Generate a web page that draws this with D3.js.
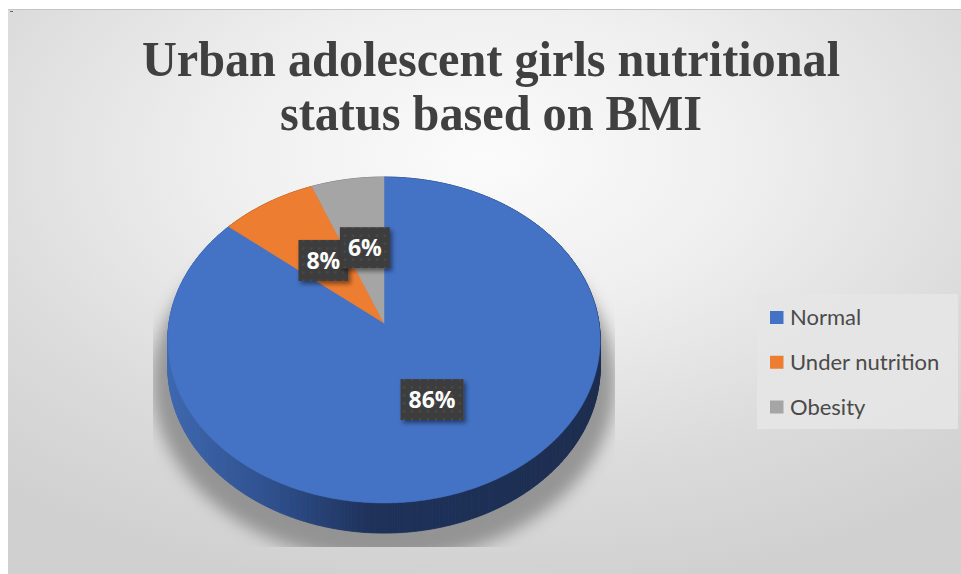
<!DOCTYPE html>
<html>
<head>
<meta charset="utf-8">
<script src="https://cdn.jsdelivr.net/npm/d3@7/dist/d3.min.js"></script>
<style>
  html, body { margin: 0; padding: 0; background: #ffffff; }
  svg { display: block; }
</style>
</head>
<body>
<div id="chart"></div>
<script>
// ---- data ----
const categories = ["Normal", "Under nutrition", "Obesity"];
const values = [86, 8, 6];
const colors = ["#4472c4", "#ed7d31", "#a5a5a5"];
const titleLines = ["Urban adolescent girls nutritional", "status based on BMI"];

// ---- layout ----
const W = 961, H = 574;
const cx = 384, cy = 323;        // centre of the pie's top face on screen
const A = 215, B = 161.2;        // radii before perspective division
const k = 0.1043;                // perspective strength (front larger than back)
const depth = 27;                // thickness of the disc

const svg = d3.select("#chart").append("svg")
  .attr("width", W).attr("height", H);

const defs = svg.append("defs");

// chart background: soft radial light-grey fill
const bg = defs.append("radialGradient").attr("id", "bgGrad")
  .attr("cx", 0.5).attr("cy", 0.26).attr("r", 0.78);
bg.append("stop").attr("offset", 0).attr("stop-color", "#fbfbfb");
bg.append("stop").attr("offset", 0.35).attr("stop-color", "#efefef");
bg.append("stop").attr("offset", 0.72).attr("stop-color", "#dbdbdb");
bg.append("stop").attr("offset", 1).attr("stop-color", "#d0d0d0");

// side wall of the disc, lighter at the left
const side = defs.append("linearGradient").attr("id", "sideGrad")
  .attr("gradientUnits", "userSpaceOnUse")
  .attr("x1", cx - A).attr("x2", cx + A).attr("y1", 0).attr("y2", 0);
side.append("stop").attr("offset", 0).attr("stop-color", "#3d67af");
side.append("stop").attr("offset", 0.25).attr("stop-color", "#2d4e8b");
side.append("stop").attr("offset", 0.47).attr("stop-color", "#1d3159");
side.append("stop").attr("offset", 1).attr("stop-color", "#1b2c4f");

// blurred shadow under the disc
const shadowF = defs.append("filter").attr("id", "pieShadow")
  .attr("x", "-20%").attr("y", "-20%").attr("width", "140%").attr("height", "140%");
shadowF.append("feGaussianBlur").attr("stdDeviation", 8);

defs.append("clipPath").attr("id", "plotClip")
  .append("rect").attr("x", 153).attr("y", 150).attr("width", 462).attr("height", 397);

// label box shadow
const lblF = defs.append("filter").attr("id", "lblShadow")
  .attr("x", "-30%").attr("y", "-30%").attr("width", "170%").attr("height", "170%");
lblF.append("feDropShadow").attr("dx", 2.5).attr("dy", 3).attr("stdDeviation", 2)
  .attr("flood-color", "#000").attr("flood-opacity", 0.45);

// dotted texture of the label boxes
const pat = defs.append("pattern").attr("id", "dots")
  .attr("patternUnits", "userSpaceOnUse").attr("width", 8).attr("height", 8);
pat.append("rect").attr("width", 8).attr("height", 8).attr("fill", "#3d3d3d");
pat.append("circle").attr("cx", 4).attr("cy", 4).attr("r", 1.3).attr("fill", "#4a4a4a");

// background panel
svg.append("rect").attr("x", 8).attr("y", 9).attr("width", W - 8).attr("height", H - 9)
  .attr("fill", "url(#bgGrad)");
svg.append("line").attr("x1", 8).attr("x2", W).attr("y1", 9.5).attr("y2", 9.5)
  .attr("stroke", "#c4c4c4").attr("stroke-width", 1);
svg.append("rect").attr("x", 10).attr("y", 11).attr("width", 3).attr("height", 1).attr("fill", "#666");

// title (slightly condensed bold serif)
const title = svg.append("g").attr("transform", "translate(491,0) scale(0.965,1)")
  .append("text").attr("x", 0).attr("text-anchor", "middle")
  .attr("font-family", "'Liberation Serif', 'Times New Roman', serif")
  .attr("font-weight", "bold").attr("font-size", 50).attr("fill", "#404040");
titleLines.forEach((t, i) => {
  title.append("tspan").attr("x", 0).attr("y", 76 + i * 54).text(t);
});

// ---- perspective projection of the disc ----
const xScale = d3.scaleLinear().domain([-1, 1]).range([cx - A, cx + A]);
const yScale = d3.scaleLinear().domain([-1, 1]).range([cy - B, cy + B]);

// angle measured clockwise from 12 o'clock, r in [0,1], dz = drop below top face
function project(angle, r, dz = 0) {
  const u = r * Math.sin(angle), v = -r * Math.cos(angle);
  const w = 1 - k * v;
  return [xScale(u / w), yScale(v / w) + dz / w];
}

const pie = d3.pie().sort(null).value(d => d)
  .startAngle(0).endAngle(2 * Math.PI);
const arcs = pie(values);

const line = d3.line();
function ringPoints(a0, a1, dz, r = 1) {
  const n = Math.max(2, Math.ceil((a1 - a0) / 0.01));
  return d3.range(n + 1).map(i => project(a0 + (a1 - a0) * i / n, r, dz));
}

// shadow: disc silhouette, widened, pushed down and blurred, clipped to the plot area
const shadowPts = ringPoints(0, 2 * Math.PI, depth + 12, 1.07);
svg.append("g").attr("clip-path", "url(#plotClip)")
  .append("path")
  .attr("d", line(shadowPts) + "Z")
  .attr("fill", "#7e7e7e").attr("opacity", 0.75)
  .attr("filter", "url(#pieShadow)");

// side wall: strips between top rim and bottom rim, drawn per slice
const sideG = svg.append("g");
arcs.forEach((a, i) => {
  const n = Math.ceil((a.endAngle - a.startAngle) / 0.01);
  const strips = [];
  for (let j = 0; j < n; j++) {
    const t0 = a.startAngle + (a.endAngle - a.startAngle) * j / n;
    const t1 = a.startAngle + (a.endAngle - a.startAngle) * (j + 1) / n;
    strips.push([project(t0, 1), project(t1, 1), project(t1, 1, depth), project(t0, 1, depth)]);
  }
  sideG.selectAll(null).data(strips).enter().append("path")
    .attr("d", d => line(d) + "Z")
    .attr("fill", i === 0 ? "url(#sideGrad)" : d3.color(colors[i]).darker(1.3))
    .attr("stroke", i === 0 ? "url(#sideGrad)" : d3.color(colors[i]).darker(1.3))
    .attr("stroke-width", 0.8);
});

// top faces
const topG = svg.append("g");
topG.selectAll("path").data(arcs).enter().append("path")
  .attr("d", a => line([project(0, 0), ...ringPoints(a.startAngle, a.endAngle, 0)]) + "Z")
  .attr("fill", (a, i) => colors[i])
  .attr("stroke", (a, i) => colors[i]).attr("stroke-width", 0.5);

// data labels, placed halfway along each slice's mid-angle
const total = d3.sum(values);
const lblG = svg.append("g");
arcs.forEach((a, i) => {
  const mid = (a.startAngle + a.endAngle) / 2;
  const [lx, ly] = project(mid, 0.5);
  const g = lblG.append("g").attr("transform", `translate(${lx},${ly})`);
  const rect = g.append("rect").attr("fill", "url(#dots)").attr("filter", "url(#lblShadow)");
  const txt = g.append("text")
    .attr("text-anchor", "middle").attr("dy", "0.36em")
    .attr("font-family", "'Open Sans', 'Noto Sans', sans-serif")
    .attr("font-weight", "bold").attr("font-size", 23).attr("fill", "#ffffff")
    .text(Math.round(values[i] / total * 100) + "%");
  const bw = txt.node().getComputedTextLength() + 16;
  const bh = 41;
  rect.attr("x", -bw / 2).attr("y", -bh / 2).attr("width", bw).attr("height", bh);
});

// legend
const legend = svg.append("g");
legend.append("rect").attr("x", 757).attr("y", 294).attr("width", 201).attr("height", 135)
  .attr("fill", "#e6e6e6").attr("opacity", 0.9);
const legY = d3.scalePoint().domain(categories).range([317.5, 407]);
const items = legend.selectAll("g.item").data(categories).enter().append("g")
  .attr("transform", d => `translate(770,${legY(d)})`);
items.append("rect").attr("x", 0).attr("y", -6.5).attr("width", 13.5).attr("height", 13)
  .attr("fill", (d, i) => colors[i]);
items.append("text").attr("x", 20).attr("dy", "0.35em")
  .attr("font-family", "Lato, 'Noto Sans', sans-serif").attr("font-size", 22)
  .attr("fill", "#4a4a4a").text(d => d);
</script>
</body>
</html>
